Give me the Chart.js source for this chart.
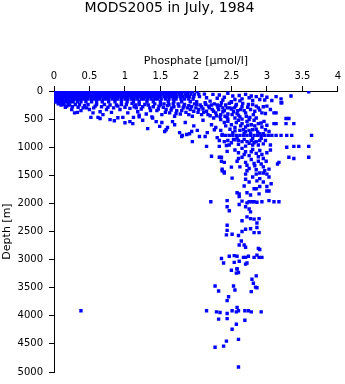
<!DOCTYPE html>
<html><head><meta charset="utf-8">
<script src="https://cdn.jsdelivr.net/npm/chart.js@4/dist/chart.umd.min.js"></script>
<style>html,body{margin:0;padding:0;background:#fff;}canvas{display:block;}</style>
</head><body>
<canvas id="c" width="345" height="384"></canvas>
<script>
const titleText = 'MODS2005 in July, 1984';
const xTitle = 'Phosphate [µmol/l]';
const yTitle = 'Depth [m]';
const xTicks = [0, 0.5, 1, 1.5, 2, 2.5, 3, 3.5, 4];
const yTicks = [0, 500, 1000, 1500, 2000, 2500, 3000, 3500, 4000, 4500, 5000];

// near-surface rows: depth of each row and phosphate values observed on it
const surfaceDepths = [10, 55, 100, 145, 190];
const surfaceRows = [
  [0.01,0.05,0.09,0.12,0.16,0.2,0.24,0.27,0.31,0.35,0.39,0.42,0.46,0.5,0.54,0.57,0.61,0.65,0.69,0.72,0.76,0.8,0.84,0.87,0.91,0.95,0.99,1.02,1.06,1.1,1.14,1.17,1.21,1.25,1.29,1.32,1.36,1.4,1.44,1.47,1.51,1.55,1.59,1.62,1.66,1.7,1.74,1.77,1.81,1.86,1.9,1.95,2.02],
  [0.02,0.06,0.1,0.14,0.17,0.21,0.25,0.29,0.32,0.36,0.4,0.44,0.47,0.51,0.55,0.59,0.62,0.66,0.7,0.74,0.77,0.81,0.85,0.89,0.92,0.96,1.0,1.04,1.07,1.11,1.15,1.19,1.22,1.26,1.3,1.34,1.37,1.41,1.45,1.49,1.52,1.56,1.6,1.64,1.67,1.71,1.76,1.8,1.85,1.88,1.93,1.98,2.04,2.12],
  [0.01,0.04,0.08,0.12,0.15,0.19,0.23,0.27,0.3,0.34,0.38,0.42,0.45,0.49,0.53,0.57,0.6,0.64,0.68,0.72,0.75,0.79,0.83,0.87,0.9,0.94,0.98,1.02,1.05,1.09,1.13,1.17,1.2,1.24,1.28,1.32,1.35,1.39,1.43,1.47,1.5,1.55,1.58,1.62,1.66,1.7,1.73,1.78,1.82,1.87,1.91,1.97,2.05],
  [0.02,0.05,0.09,0.13,0.17,0.2,0.24,0.28,0.32,0.35,0.39,0.43,0.47,0.52,0.56,0.6,0.64,0.69,0.73,0.77,0.82,0.86,0.9,0.95,1.0,1.04,1.09,1.13,1.18,1.23,1.27,1.32,1.37,1.42,1.46,1.51,1.57,1.62,1.68,1.72,1.79,1.84,1.9,1.96],
  [0.01,0.04,0.08,0.11,0.15,0.19,0.23,0.27,0.33,0.38,0.45,0.53,0.6,0.68,0.77,0.86,0.95,1.03,1.12,1.2,1.31,1.4,1.5,1.61,1.69,1.8,1.92,2.01]
];

// [phosphate, depth] pairs
const surfaceSparse = [[2.15,120],[2.24,60],[2.33,70],[2.3,130],[2.4,110],[2.45,40],[2.52,90],[2.55,150],[2.61,80],[2.65,140],[2.7,60],[2.75,120],[2.78,90],[2.8,170],[2.85,100],[2.9,150],[2.93,80],[2.97,160],[3.0,110],[3.07,170],[3.13,100],[3.2,140],[3.21,210],[3.34,90],[3.59,15],[2.2,180],[2.5,190],[2.62,175],[2.38,160]];

const upperLayer = [[0.06,230],[0.1,250],[0.14,240],[0.18,270],[0.22,250],[0.16,290],[0.26,280],[0.3,240],[0.34,290],[0.29,390],[0.33,380],[0.38,350],[0.46,300],[0.43,260],[0.5,330],[0.52,470],[0.55,390],[0.58,270],[0.62,470],[0.65,370],[0.69,420],[0.74,330],[0.79,250],[0.81,380],[0.88,250],[0.93,330],[0.97,470],[1.04,390],[1.0,290],[1.12,470],[1.18,370],[1.15,250],[1.2,430],
[1.1,220],[1.16,300],[1.23,320],[1.28,240],[1.3,410],[1.35,300],[1.38,460],[1.42,230],[1.45,350],[1.48,270],[1.52,420],[1.55,230],[1.58,330],[1.6,260],[1.63,390],[1.66,300],[1.68,230],[1.7,450],[1.73,350],[1.76,270],[1.78,410],[1.82,300],[1.84,240],[1.86,380],[1.9,260],[1.92,330],[1.95,450],[1.98,230],[2.0,300],[2.03,380],[2.06,250],[2.08,420],[2.1,320],[2.13,210],[2.15,360],[2.18,270],[2.2,440],[2.23,330],[2.26,230],[2.28,390],[2.31,290],[2.34,460],[2.36,210],[2.4,350],[2.42,250],[2.45,410],[2.48,300],[2.5,200],[2.53,370],[2.56,270],[2.6,430],[2.63,330],[2.66,220],[2.7,390],[2.73,290],[2.76,470],[2.8,240],[2.83,360],[2.88,300],[2.93,390],[3.0,270],[3.1,390],[3.13,390],[3.2,210],[3.31,490],[3.27,490],[2.35,420],[2.38,300],[2.44,470],[2.5,320],[2.25,480],[2.3,250],[2.58,400],
[0.12,235],[0.2,235],[0.25,330],[0.36,245],[0.41,300],[0.48,240],[0.56,300],[0.6,240],[0.67,280],[0.71,240],[0.76,290],[0.84,300],[0.9,270],[0.95,240],[1.02,240],[1.07,310],[1.13,280],[1.2,240],[1.25,280],[1.33,250],[1.36,350],[1.4,280],[1.47,320],[1.5,240],[1.54,290],[1.57,380],[1.62,240],[1.65,340],[1.69,280],[1.72,400],[1.75,230],[1.8,350],[1.83,270],[1.88,300],[1.9,420],[1.94,280],[1.97,360],[2.01,240],[2.04,330],[2.08,280],[2.11,380],[2.14,240],[2.17,420],[2.19,300],[2.22,250],[2.25,360],[2.29,440],[2.32,330],[2.35,260],[2.38,370],[2.41,450],[2.44,300],[2.47,220],[2.51,420],[2.54,300],[2.57,240],[2.59,350],[2.62,460],[2.65,280],[2.68,350],[2.71,450],[2.74,240],[2.77,330],[2.81,420],[2.85,270],[2.9,340],[2.95,280],[2.98,400],[3.05,330],[2.45,500],[2.55,480],[2.65,500],[2.35,510],[2.75,510],[2.85,480]];

const thermocline = [[0.65,490],[0.79,510],[0.9,475],[1.0,565],[1.07,545],[1.11,580],[1.2,460],[1.32,670],[1.39,480],[1.44,545],[1.49,630],[1.58,690],[1.6,650],[1.67,545],[1.77,740],[1.8,810],[1.87,775],[1.95,900],[1.56,720],[1.94,720],[1.81,790],[1.91,760],[1.7,600],[1.85,560],[1.52,560],[1.25,520],[0.85,530],[1.97,620],[2.05,810],[2.02,700],
[2.1,520],[2.16,740],[2.13,810],[2.26,690],[2.3,830],[2.37,775],[2.33,880],[2.4,560],[2.15,985],[2.33,985],[2.43,970],[2.45,540],[2.5,600],[2.55,650],[2.6,520],[2.62,700],[2.65,580],[2.68,760],[2.7,640],[2.72,540],[2.75,700],[2.78,600],[2.8,850],[2.82,520],[2.85,680],[2.88,580],[2.9,760],[2.93,640],[2.96,540],[3.03,720],[3.0,610],[2.45,880],[2.5,920],[2.55,870],[2.6,950],[2.65,900],[2.7,980],[2.75,930],[2.8,960],[2.85,900],[2.58,830],[2.68,860],[2.78,880],[2.9,880],[2.95,940],[3.05,960],[3.1,580],[3.13,580],[3.27,580],[3.38,580],
[2.37,790],[2.42,790],[2.47,790],[2.52,790],[2.57,790],[2.62,790],[2.67,790],[2.72,790],[2.77,790],[2.82,790],[2.87,790],[2.92,790],[2.97,790],[3.02,790],[3.07,790],[3.13,790],[3.2,790],[3.28,790],[3.35,790],[3.63,790],
[3.45,985],[3.59,985],[3.38,985],[3.28,1000],
[2.22,600],[2.28,650],[2.35,700],[2.42,620],[2.48,680],[2.52,740],[2.57,560],[2.63,620],[2.67,690],[2.73,610],[2.77,750],[2.83,620],[2.87,730],[2.92,570],[2.98,690],[2.4,900],[2.47,960],[2.53,860],[2.6,880],[2.72,900],[2.82,920],[2.88,960],[2.92,840],[2.98,880],[2.55,710],[2.7,720],[2.8,690],[2.95,760]];

const intermediate = [[3.31,1180],[3.38,1200],[3.59,1180],[3.15,1300],[3.17,1270],[3.03,1390],
[2.22,1160],[2.36,1180],[2.33,1180],[2.36,1250],[2.4,1270],[2.37,1390],[2.4,1440],[2.37,1420],[2.44,1075],[2.5,1355],[2.51,1550],[2.4,1460],[2.7,1270],[2.72,1320],[2.99,1250],[2.7,1480],[2.85,1480],[2.9,1460],[2.95,1460],[3.0,1480],[3.03,1530],[2.86,1600],[2.7,1570],[2.82,1740],[3.06,1650],[2.68,1690],[2.61,1830],[2.58,1810],[2.85,1740],[2.89,1830],[3.03,1780],[3.0,1780],[2.77,1850],[2.61,1880],[2.72,1810],
[2.55,1050],[2.6,1100],[2.65,1020],[2.7,1080],[2.75,1150],[2.8,1040],[2.85,1110],[2.9,1060],[2.95,1200],[2.78,1220],[2.65,1180],[2.58,1250],[2.82,1290],[2.88,1250],[2.93,1130],[3.0,1100],[3.05,1050],[2.62,1350],[2.75,1380],[2.85,1400],[2.95,1350],[2.8,1530],[2.9,1560],[2.75,1620],[2.95,1620],[3.0,1700],[2.9,1700],
[2.68,1130],[2.78,1080],[2.88,1170],[2.83,1330],[2.72,1420],[2.92,1300],[2.97,1420],[2.6,1200],
[2.21,1970],[2.44,1950],[2.75,1970],[2.79,1970],[2.82,1970],[2.86,1980],[2.93,1970],[3.03,1950],[3.1,1970],[3.17,1970],[2.65,1960],[2.72,1990]];

const deepWater = [[2.44,2060],[2.47,2130],[2.61,2020],[2.7,2060],[2.75,2100],[2.77,2150],[2.72,2240],[2.77,2270],[2.82,2280],[2.89,2270],[2.65,2310],[2.86,2350],[2.44,2390],[2.44,2480],[2.7,2460],[2.77,2450],[2.86,2430],[2.89,2520],[2.82,2520],[2.43,2560],[2.51,2550],[2.6,2570],[2.65,2500],[2.64,2670],[2.61,2740],[2.68,2740],[2.7,2780],[2.88,2800],[2.9,2820],[2.36,2980],[2.47,2940],[2.54,2930],[2.58,2940],[2.67,2960],[2.7,2960],[2.74,2940],[2.82,2960],[2.86,2920],[2.89,2960],[2.93,2960],[2.39,3060],[2.54,3050],[2.61,3030],[2.7,3080],[2.72,3060],[2.5,3190],[2.58,3170],[2.57,3240],[2.6,3230],[2.58,3160],[2.85,3290],
[2.79,3350],[2.81,3420],[2.84,3490],[2.86,3500],[2.78,3570],[2.27,3470],[2.32,3560],[2.53,3470],[2.55,3540],[2.46,3660],[2.44,3730],
[0.38,3910],[2.15,3910],[2.29,3930],[2.34,3940],[2.51,3910],[2.57,3930],[2.6,3910],[2.58,3850],[2.69,3910],[2.74,3910],[2.78,3930],[2.92,3930],[2.44,3960],[2.32,4060],[2.44,4050],[2.69,4080],[2.57,4150],[2.51,4240],[2.6,4420],[2.43,4450],[2.39,4540],[2.27,4560],[2.6,4910]];

const points = [];
surfaceRows.forEach((row, i) => row.forEach(p => points.push({x: p, y: surfaceDepths[i]})));
[surfaceSparse, upperLayer, thermocline, intermediate, deepWater].forEach(arr =>
  arr.forEach(([p, d]) => points.push({x: p, y: d})));

const FONT = 'DejaVu Sans';
new Chart(document.getElementById('c'), {
  type: 'scatter',
  data: { datasets: [{
    data: points,
    pointStyle: 'rect',
    pointRadius: 2.4,
    pointBorderWidth: 0,
    backgroundColor: '#0000ff',
    borderColor: '#0000ff'
  }]},
  options: {
    responsive: false,
    animation: false,
    devicePixelRatio: 1,
    layout: { padding: { left: 0, right: 6, top: 0, bottom: 9 } },
    plugins: {
      legend: { display: false },
      tooltip: { enabled: false },
      title: { display: true, text: titleText, color: '#000',
        font: { family: FONT, size: 14, weight: 'normal' }, padding: { top: 0, bottom: 0 } }
    },
    scales: {
      x: {
        type: 'linear', position: 'top', min: 0, max: 4,
        afterBuildTicks: s => { s.ticks = xTicks.map(v => ({ value: v })); },
        afterFit: s => { s.height = 91 - 16.8; },
        ticks: { color: '#000', font: { family: FONT, size: 10 }, padding: 4, maxRotation: 0,
          callback: v => String(v) },
        grid: { drawOnChartArea: false, drawTicks: true, tickLength: 5, color: '#000', lineWidth: 1 },
        border: { display: true, color: '#000', width: 1 },
        title: { display: true, text: xTitle, color: '#000', font: { family: FONT, size: 11 },
          padding: { top: 38, bottom: 0 } }
      },
      y: {
        type: 'linear', reverse: true, min: 0, max: 5000,
        afterBuildTicks: s => { s.ticks = yTicks.map(v => ({ value: v })); },
        afterFit: s => { s.width = 54; },
        ticks: { color: '#000', font: { family: FONT, size: 10 }, padding: 6,
          callback: v => String(v) },
        grid: { drawOnChartArea: false, drawTicks: true, tickLength: 5, color: '#000', lineWidth: 1 },
        border: { display: true, color: '#000', width: 1 },
        title: { display: true, text: yTitle, color: '#000', font: { family: FONT, size: 11 },
          padding: { top: 1, bottom: 0 } }
      }
    }
  }
});
</script>
</body></html>
